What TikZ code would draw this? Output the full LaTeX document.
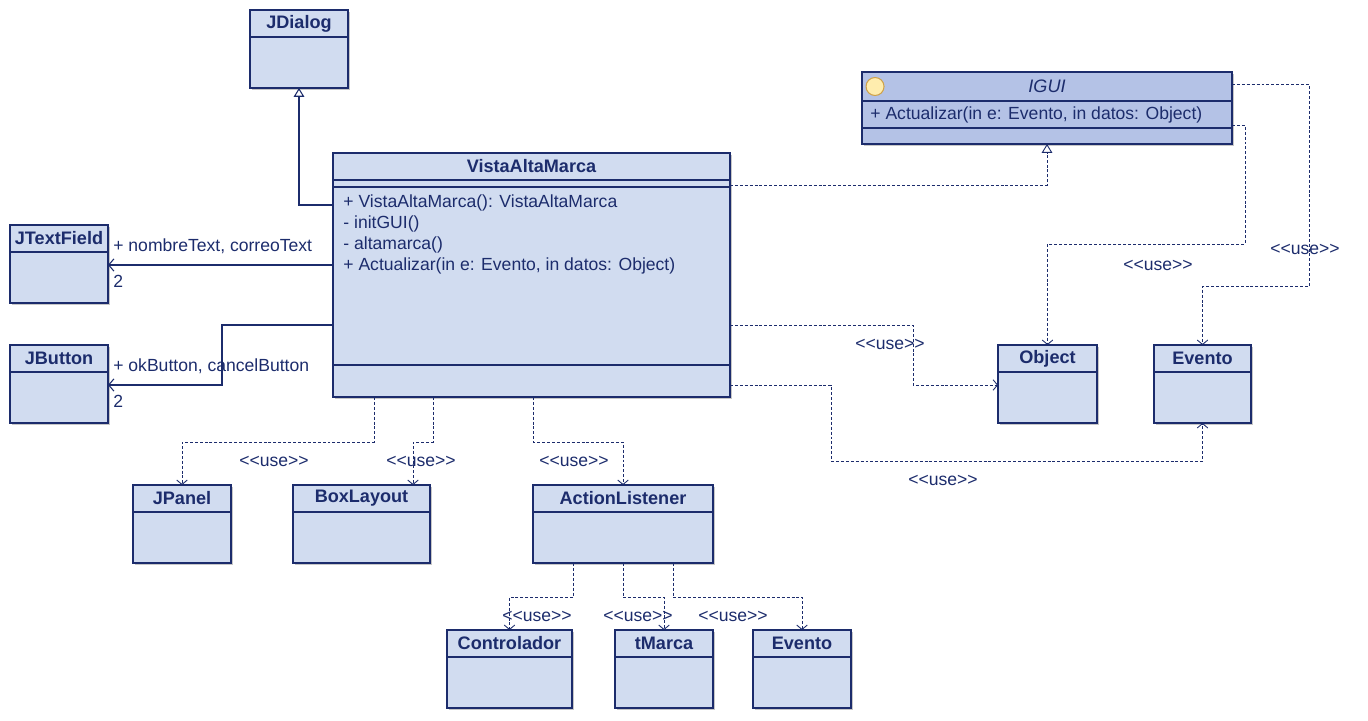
\documentclass[tikz,border=0pt]{standalone}
\usepackage{fontspec}
\setmainfont{Liberation Sans}
\usetikzlibrary{
    arrows.meta,
    positioning,
    shadows
}
\definecolor{umlline}{HTML}{1C2C6C}
\definecolor{umlfill}{HTML}{D1DCF0}
\definecolor{umliface}{HTML}{B4C2E6}
\definecolor{umlicon}{HTML}{FFEDAE}
\definecolor{umliconline}{HTML}{CFA24A}
\tikzset{
    every picture/.style = {
        x = 0.02cm,
        y = -0.02cm,
        font = \fontsize{10}{12}\selectfont,
        text = umlline
    },
    box/.style = {
        draw = umlline,
        fill = umlfill,
        line width = 0.8pt,
        inner sep = 0pt,
        outer sep = 0pt,
        minimum width = 1.96cm,
        drop shadow = {shadow xshift = 1.2pt, shadow yshift = -1.2pt,
                       fill = black!22, opacity = 1}
    },
    head/.style = {
        box,
        font = \fontsize{10.3}{12}\selectfont\bfseries,
        minimum height = 0.54cm
    },
    body/.style = {
        box,
        minimum height = 1.02cm
    },
    sep/.style = {
        draw = umlline,
        line width = 0.8pt
    },
    ops/.style = {
        inner sep = 0pt,
        align = left
    },
    role/.style = {
        inner sep = 0pt,
        anchor = west
    },
    stereo/.style = {
        inner sep = 0pt
    },
    assoc/.style = {
        draw = umlline,
        line width = 0.6pt,
        -{Straight Barb[length = 3pt, width = 7pt]}
    },
    inherit/.style = {
        draw = umlline,
        line width = 0.6pt,
        -{Triangle[open, length = 5pt, width = 6pt, fill = white]}
    },
    realize/.style = {
        inherit,
        line width = 0.5pt,
        dash pattern = on 1.7pt off 1.1pt
    },
    dep/.style = {
        draw = umlline,
        line width = 0.5pt,
        dash pattern = on 1.7pt off 1.1pt,
        -{Straight Barb[length = 2.5pt, width = 6pt]}
    }
}

\begin{document}
\begin{tikzpicture}
    \useasboundingbox (0,0) rectangle (1368,720);

    % classes
    \node[head] (dialog) at (299,23.5) {JDialog};
    \node[body, below = 0pt of dialog] (dialogB) {};

    \node[head, fill = umliface, minimum width = 7.4cm, minimum height = 0.58cm,
          font = \fontsize{10.3}{12}\selectfont\itshape] (igui) at (1047,86.5) {IGUI};
    \node[box, fill = umliface, minimum width = 7.4cm, minimum height = 0.54cm,
          below = 0pt of igui] (iguiO) {};
    \node[box, fill = umliface, minimum width = 7.4cm, minimum height = 0.32cm,
          below = 0pt of iguiO] (iguiB) {};
    \draw[sep, line width = 1.6pt] (igui.south west) -- (igui.south east);
    \node[circle, draw = umliconline, fill = umlicon, line width = 0.6pt,
          minimum size = 0.36cm, inner sep = 0pt] (iguiIcon) at ([shift = {(13,0)}]igui.west) {};
    \node[ops, anchor = west] (iguiOps) at ([shift = {(8,0)}]iguiO.west)
        {+ Actualizar(in e: Evento, in datos: Object)};

    \node[head, minimum width = 7.94cm] (vista) at (531.5,166.5) {VistaAltaMarca};
    \node[body, minimum width = 7.94cm, minimum height = 4.34cm,
          below = 0pt of vista] (vistaB) {};
    \draw[sep] ([shift = {(0,7)}]vistaB.north west) -- ([shift = {(0,7)}]vistaB.north east);
    \draw[sep] ([shift = {(0,185)}]vistaB.north west) -- ([shift = {(0,185)}]vistaB.north east);
    \node[ops, anchor = north west] (vistaOps) at ([shift = {(10,14)}]vistaB.north west)
        {+ VistaAltaMarca(): VistaAltaMarca\\- initGUI()\\- altamarca()\\%
         + Actualizar(in e: Evento, in datos: Object)};

    \node[head] (text) at (59,238.5) {JTextField};
    \node[body, below = 0pt of text] (textB) {};
    \node[head] (button) at (59,358.5) {JButton};
    \node[body, below = 0pt of button] (buttonB) {};

    \node[head, minimum width = 1.98cm] (obj) at (1047.5,358.5) {Object};
    \node[body, minimum width = 1.98cm, below = 0pt of obj] (objB) {};
    \node[head, minimum width = 1.94cm] (evt) at (1202.5,358.5) {Evento};
    \node[body, minimum width = 1.94cm, below = 0pt of evt] (evtB) {};

    \node[head] (panel) at (182,498.5) {JPanel};
    \node[body, below = 0pt of panel] (panelB) {};
    \node[head, minimum width = 2.74cm] (layout) at (361.5,498.5) {BoxLayout};
    \node[body, minimum width = 2.74cm, below = 0pt of layout] (layoutB) {};
    \node[head, minimum width = 3.6cm] (listener) at (623,498.5) {ActionListener};
    \node[body, minimum width = 3.6cm, below = 0pt of listener] (listenerB) {};

    \node[head, minimum width = 2.5cm] (ctrl) at (509.5,643.5) {Controlador};
    \node[body, minimum width = 2.5cm, below = 0pt of ctrl] (ctrlB) {};
    \node[head] (marca) at (664,643.5) {tMarca};
    \node[body, below = 0pt of marca] (marcaB) {};
    \node[head] (evt2) at (802,643.5) {Evento};
    \node[body, below = 0pt of evt2] (evt2B) {};

    % generalization and realization
    \draw[inherit] ([shift = {(0,25)}]vistaB.north west) -| (dialogB.south);
    \draw[realize] ([shift = {(0,5)}]vistaB.north east) -| (iguiB.south);

    % associations
    \draw[assoc] ([shift = {(0,85)}]vistaB.north west) -- ([shift = {(0,13)}]textB.north east);
    \draw[assoc] ([shift = {(0,145)}]vistaB.north west)
        -| ([shift = {(114,13)}]buttonB.north east) -- ([shift = {(0,13)}]buttonB.north east);
    \node[role] (textRole) at ([shift = {(5,-6)}]textB.north east) {+ nombreText, correoText};
    \node[role] (textMult) at ([shift = {(5,29)}]textB.north east) {2};
    \node[role] (buttonRole) at ([shift = {(5,-6)}]buttonB.north east) {+ okButton, cancelButton};
    \node[role] (buttonMult) at ([shift = {(5,29)}]buttonB.north east) {2};

    % dependencies
    \draw[dep] ([shift = {(0,145)}]vistaB.north east)
        -| ([shift = {(-85,13)}]objB.north west) -- ([shift = {(0,13)}]objB.north west);
    \draw[dep] ([shift = {(0,205)}]vistaB.north east) -| ++(101,76) -| (evtB.south);
    \draw[dep] ([shift = {(0,-3)}]iguiO.south east) -| ++(13,119) -| (obj.north);
    \draw[dep] ([shift = {(0,-2)}]igui.east) -| ++(77,202) -| (evt.north);
    \draw[dep] ([shift = {(41,0)}]vistaB.south west) -- ++(0,45) -| (panel.north);
    \draw[dep] ([shift = {(100,0)}]vistaB.south west) -- ++(0,45)
        -| ([shift = {(-17,0)}]layout.north east);
    \draw[dep] ([shift = {(200,0)}]vistaB.south west) -- ++(0,45) -| (listener.north);
    \draw[dep] ([shift = {(-50,0)}]listenerB.south) -- ++(0,34) -| (ctrl.north);
    \draw[dep] (listenerB.south) -- ++(0,34) -| (marca.north);
    \draw[dep] ([shift = {(50,0)}]listenerB.south) -- ++(0,34) -| (evt2.north);

    \node[stereo] (useObj) at (890,344) {<{}<use>{}>};
    \node[stereo] (useEvt) at (943,480) {<{}<use>{}>};
    \node[stereo] (useIObj) at (1158,265) {<{}<use>{}>};
    \node[stereo] (useIEvt) at (1305,249) {<{}<use>{}>};
    \node[stereo] (usePanel) at (274,461) {<{}<use>{}>};
    \node[stereo] (useLayout) at (421,461) {<{}<use>{}>};
    \node[stereo] (useListener) at (574,461) {<{}<use>{}>};
    \node[stereo] (useCtrl) at (537,616) {<{}<use>{}>};
    \node[stereo] (useMarca) at (638,616) {<{}<use>{}>};
    \node[stereo] (useEvt2) at (733,616) {<{}<use>{}>};
\end{tikzpicture}
\end{document}
